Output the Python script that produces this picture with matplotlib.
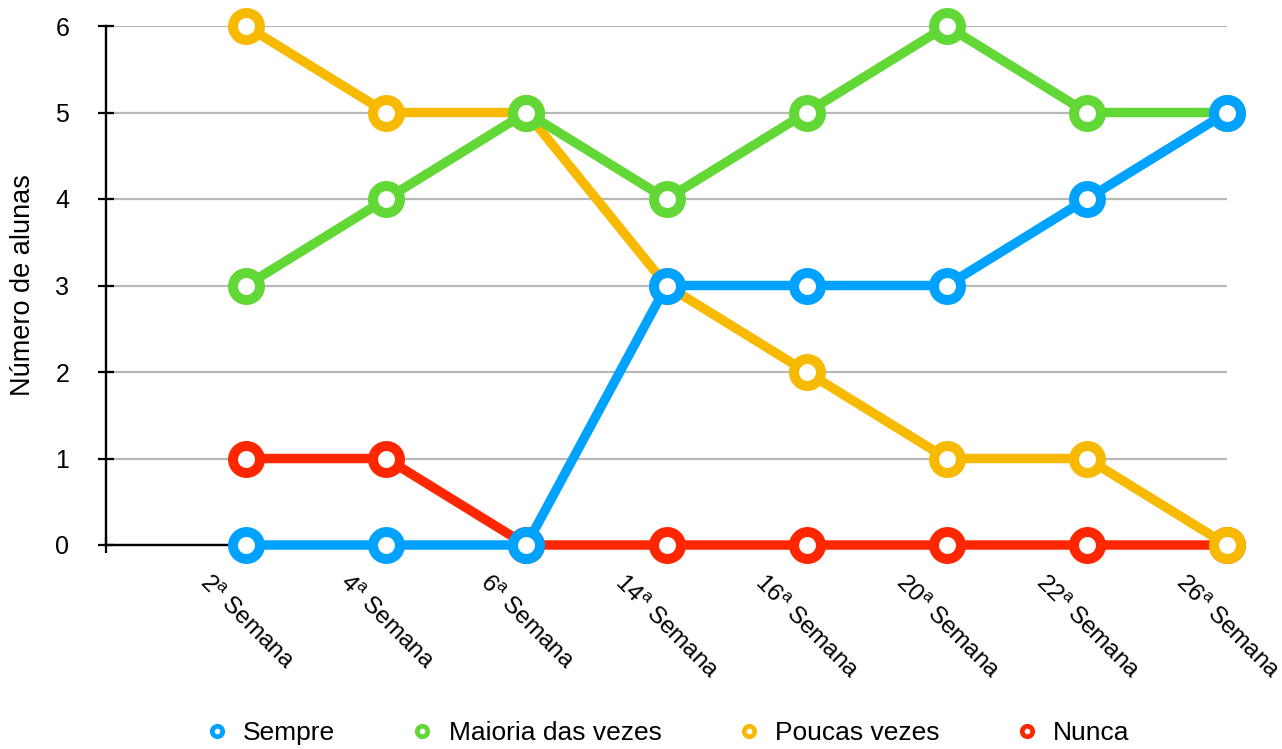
import numpy as np
import matplotlib
matplotlib.use('Agg')
import matplotlib.pyplot as plt
from matplotlib.lines import Line2D

plt.rcParams['font.family'] = ['Liberation Sans', 'DejaVu Sans']
plt.rcParams['mathtext.fontset'] = 'custom'
plt.rcParams['mathtext.rm'] = 'Liberation Sans'

# dados
semanas = ['2', '4', '6', '14', '16', '20', '22', '26']
sempre = [0, 0, 0, 3, 3, 3, 4, 5]
maioria = [3, 4, 5, 4, 5, 6, 5, 5]
poucas = [6, 5, 5, 3, 2, 1, 1, 0]
nunca = [1, 1, 0, 0, 0, 0, 0, 0]

series = [
    ('Sempre', sempre, '#00a2ff'),
    ('Maioria das vezes', maioria, '#61d836'),
    ('Poucas vezes', poucas, '#f8ba00'),
    ('Nunca', nunca, '#ff2600'),
]

fs = 18
fig = plt.figure(figsize=(12.82, 7.49), dpi=100)
ax = fig.add_axes([106 / 1282, 1 - 545 / 749, (1227 - 106) / 1282, (545 - 26) / 749])

x = np.arange(len(semanas))
# desenha de baixo para cima: Nunca, Poucas, Maioria, Sempre
for i, (nome, vals, cor) in enumerate(reversed(series)):
    ax.plot(x, vals, color=cor, lw=6.8, marker='o', ms=19.4, mew=7.2,
            mfc='white', mec=cor, clip_on=False, zorder=3 + i,
            solid_capstyle='butt')

ax.set_xlim(-1, 7)
ax.set_ylim(0, 6)
ax.set_yticks(range(7))
ax.yaxis.grid(True, color='#b8b8b8', lw=1.6)
ax.set_axisbelow(True)

for s in ['top', 'right']:
    ax.spines[s].set_visible(False)
for s in ['left', 'bottom']:
    ax.spines[s].set_linewidth(1.7)
    ax.spines[s].set_color('black')

ax.set_xticks(x)
ax.set_xticklabels([f'{s}$^{{\\mathrm{{a}}}}$ Semana' for s in semanas],
                   rotation=-45, ha='center', va='top', fontsize=17.5)
ax.tick_params(axis='x', length=0, pad=19)
ax.set_xticks([-1], minor=True)
ax.tick_params(axis='x', which='minor', direction='inout', length=11, width=1.6)
ax.tick_params(axis='y', direction='inout', length=11, width=1.6, pad=21, labelsize=fs)

ax.set_ylabel('Número de alunas', fontsize=19.5, labelpad=14)

handles = [Line2D([], [], ls='none', marker='o', ms=7.5, mew=3.4, mfc='white', mec=c)
           for _, _, c in series]
ax.legend(handles, [n for n, _, _ in series], loc='center', bbox_to_anchor=(0.5, -0.362),
          ncol=4, frameon=False, fontsize=19, handletextpad=0.5, columnspacing=2.8,
          handlelength=1.0)

fig.savefig('out.png', dpi=100)
